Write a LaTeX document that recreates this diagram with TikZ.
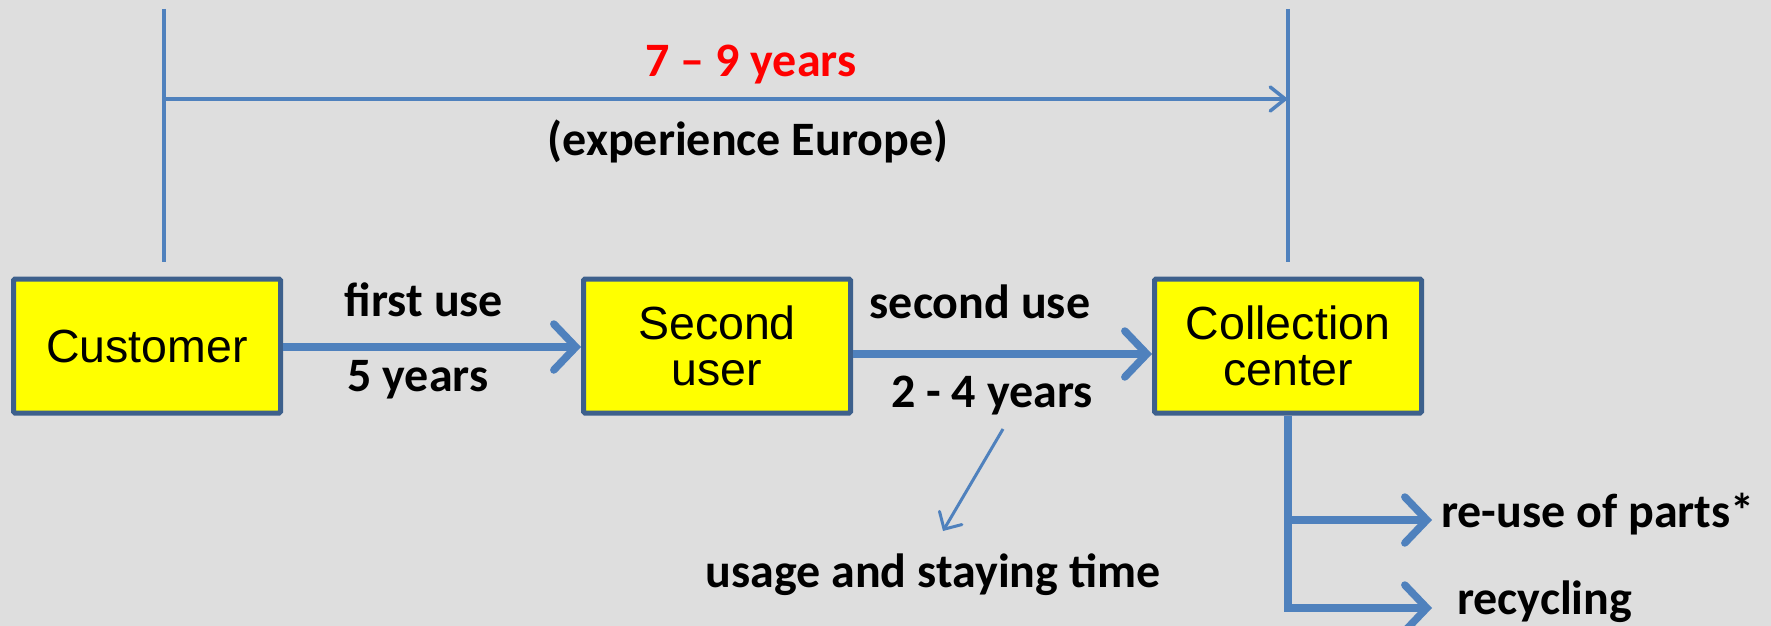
\documentclass[tikz,border=0pt]{standalone}
\usepackage{fontspec}
\setmainfont{Carlito}
\newfontfamily\arialfont{Liberation Sans}
\usetikzlibrary{arrows.meta}
\definecolor{bgc}{HTML}{DEDEDE}
\definecolor{boxborder}{HTML}{3D608C}
\definecolor{arrowblue}{HTML}{4F81BD}
\definecolor{boxyellow}{HTML}{FFFF00}
\definecolor{redtxt}{HTML}{FF0000}
\begin{document}
\begin{tikzpicture}[x=1pt,y=-1pt,
  box/.style={draw=boxborder, line width=5pt, rounded corners=1.5pt, fill=boxyellow, minimum width=267pt, minimum height=134pt, inner sep=0pt, align=center, font=\arialfont\fontsize{46.5}{46}\selectfont},
  lbl/.style={font=\bfseries\fontsize{48}{48}\selectfont, inner sep=0pt, anchor=base},
  bigarrow/.style={draw=arrowblue, line width=7.5pt, -{Straight Barb[length=22pt,width=46pt,line cap=round]}},
  toparrow/.style={draw=arrowblue, line width=3.5pt, -{Straight Barb[length=15pt,width=24pt,line cap=round]}},
  diagarrow/.style={draw=arrowblue, line width=3pt, -{Straight Barb[length=13pt,width=26pt,line cap=round]}},
  thinline/.style={draw=arrowblue, line width=3.5pt},
  branchline/.style={draw=arrowblue, line width=7.5pt}
]
\useasboundingbox (0,0) rectangle (1771,626);
\fill[bgc] (0,0) rectangle (1771,626);

% boxes
\node[box] (cust) at (147,346) {Customer};
\node[box] (second) at (717,346) {Second\\user};
\node[box] (coll) at (1288,346) {Collection\\center};

% top span
\coordinate (ltop) at (164,9);
\coordinate (lbot) at (164,262);
\coordinate (rtop) at (coll.center |- 0,9);
\coordinate (rbot) at (coll.center |- 0,262);
\coordinate (hl) at (164,99);
\coordinate (hr) at (coll.center |- 0,99);
\draw[thinline] (ltop) -- (lbot);
\draw[thinline] (rtop) -- (rbot);
\draw[toparrow] (hl) -- (hr);

\node[lbl, text=redtxt] (span) at (751,77) {7 -- 9 years};
\node[lbl] (exp) at (748,155) {(experience Europe)};

% main flow
\draw[bigarrow] (cust.east |- 0,347) -- (second.west |- 0,347);
\draw[bigarrow] (second.east |- 0,354) -- (coll.west |- 0,354);

\node[lbl] (fu) at (424,316) {first use};
\node[lbl] (fy) at (418,391) {5 years};
\node[lbl] (su) at (980,318) {second use};
\node[lbl] (sy) at (992,407) {2 - 4 years};

% usage arrow
\coordinate (d1) at (1003,429);
\coordinate (d2) at (943,531);
\draw[diagarrow] (d1) -- (d2);
\node[lbl] (usage) at (933,587) {usage and staying time};

% branches
\coordinate (j1) at (coll.south |- 0,520);
\coordinate (j2) at (coll.south |- 0,608);
\coordinate (e1) at (1432,520);
\coordinate (e2) at (1432,608);
\draw[branchline] (coll.south) -- (j2);
\draw[bigarrow] (j1) -- (e1);
\draw[bigarrow] ([xshift=-3.75pt]j2) -- (e2);
\node[lbl, anchor=base west] (reuse) at (1441,527) {re-use of parts*};
\node[lbl, anchor=base west] (recyc) at (1457,614) {recycling};
\end{tikzpicture}
\end{document}
